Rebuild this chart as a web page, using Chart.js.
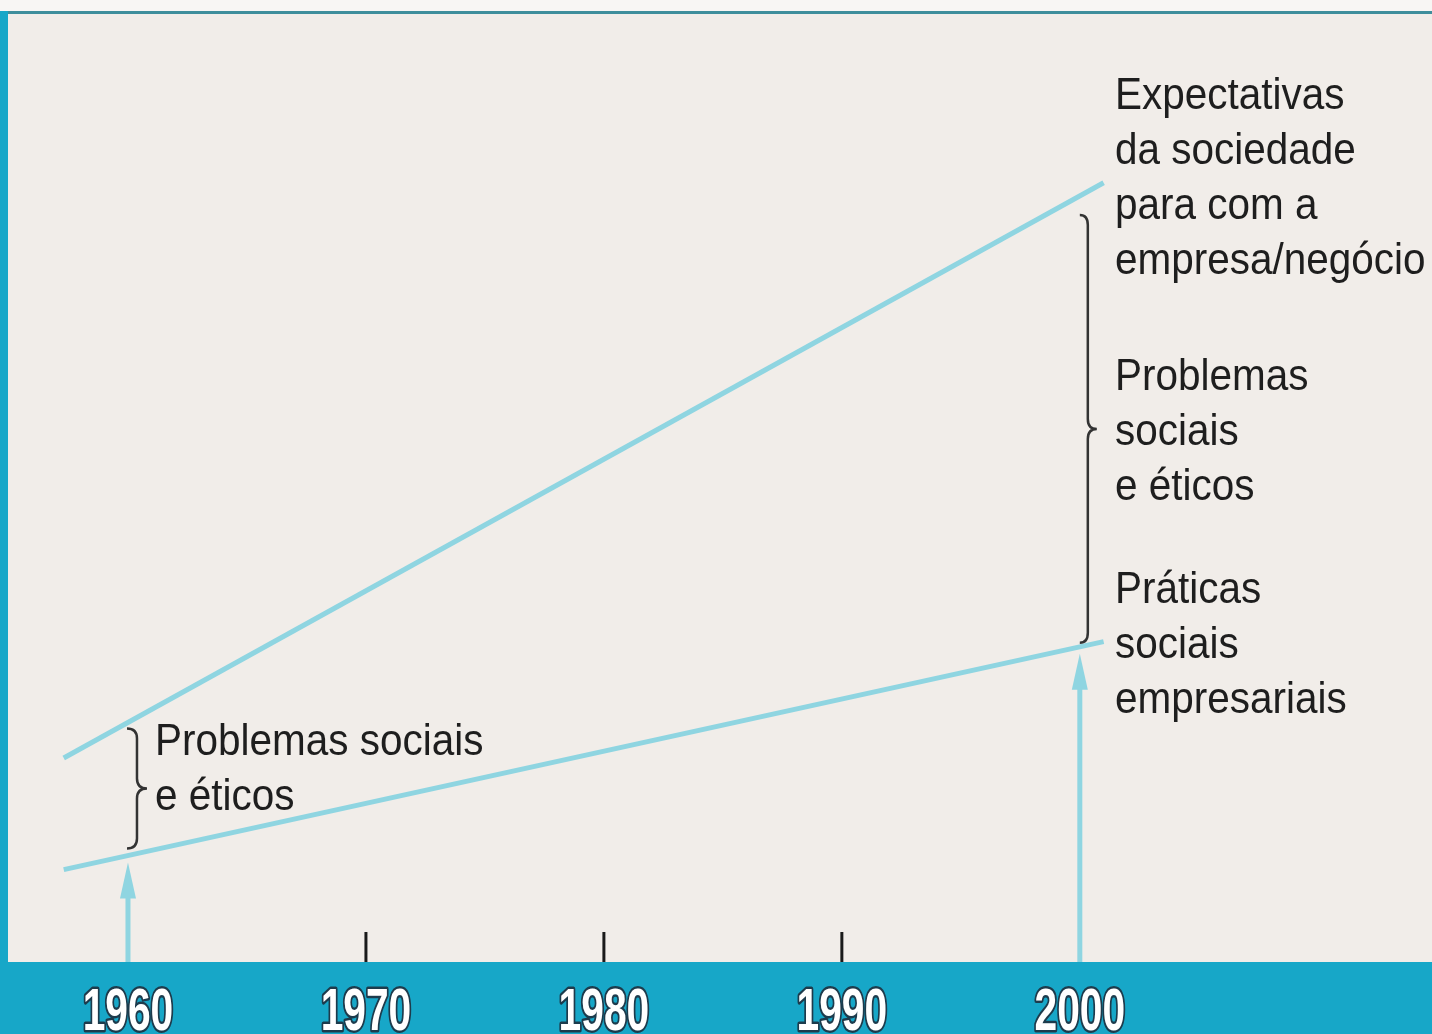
<!DOCTYPE html>
<html>
<head>
<meta charset="utf-8">
<script src="https://cdn.jsdelivr.net/npm/chart.js@4.4.1/dist/chart.umd.min.js"></script>
<style>
  html, body { margin: 0; padding: 0; background: #f1ede9; }
  #wrap { position: relative; width: 1432px; height: 1034px; }
</style>
</head>
<body>
<div id="wrap"><canvas id="c"></canvas></div>
<script>
// ---- data ----
const lineYears = [1957.3, 2001.0];
const expectativas = [21.2, 81.0];   // Expectativas da sociedade para com a empresa/negócio
const praticas = [9.6, 33.3];        // Práticas sociais empresariais
const tickYears = [1970, 1980, 1990];
const yearLabels = ['1960', '1970', '1980', '1990', '2000'];
const arrowYears = [1960, 2000];
const rightLabels1 = ['Expectativas', 'da sociedade', 'para com a', 'empresa/negócio'];
const rightLabels2 = ['Problemas', 'sociais', 'e éticos'];
const rightLabels3 = ['Práticas', 'sociais', 'empresariais'];
const leftLabels = ['Problemas sociais', 'e éticos'];

const LINE_COLOR = '#8fd5e1';
const BAND_COLOR = '#17a7c8';
const BG_COLOR = '#f1ede9';

function interp(series, year) {
  const t = (year - lineYears[0]) / (lineYears[1] - lineYears[0]);
  return series[0] + t * (series[1] - series[0]);
}

function drawText(ctx, str, x, y, size, sx, weight) {
  ctx.save();
  ctx.font = (weight || 'normal') + ' ' + size + 'px "Liberation Sans", Arial, sans-serif';
  ctx.textBaseline = 'alphabetic';
  ctx.translate(x, y);
  ctx.scale(sx, 1);
  ctx.fillText(str, 0, 0);
  ctx.restore();
}

function brace(ctx, xV, yTop, yBot, tipDx, endDx, r) {
  const yMid = (yTop + yBot) / 2;
  ctx.beginPath();
  ctx.moveTo(xV - endDx, yTop);
  ctx.quadraticCurveTo(xV, yTop, xV, yTop + r);
  ctx.lineTo(xV, yMid - r);
  ctx.quadraticCurveTo(xV, yMid, xV + tipDx, yMid);
  ctx.quadraticCurveTo(xV, yMid, xV, yMid + r);
  ctx.lineTo(xV, yBot - r);
  ctx.quadraticCurveTo(xV, yBot, xV - endDx, yBot);
  ctx.stroke();
}

const decor = {
  id: 'decor',
  beforeDraw(chart) {
    const ctx = chart.ctx, W = chart.width, H = chart.height;
    const area = chart.chartArea;
    ctx.save();
    ctx.fillStyle = BG_COLOR;
    ctx.fillRect(0, 0, W, H);
    ctx.fillStyle = '#f8f6f4';
    ctx.fillRect(0, 0, W, 11);
    // top rule
    ctx.fillStyle = '#3e8e9c';
    ctx.fillRect(0, 11, W, 3);
    // left border
    ctx.fillStyle = BAND_COLOR;
    ctx.fillRect(0, 11, 8, H - 11);
    // bottom band
    ctx.fillRect(0, area.bottom, W, H - area.bottom);
    ctx.restore();
  },
  afterDatasetsDraw(chart) {
    const ctx = chart.ctx;
    const xs = chart.scales.x, ys = chart.scales.y;
    const area = chart.chartArea;
    ctx.save();
    // tick marks
    ctx.strokeStyle = '#1a1a1a';
    ctx.lineWidth = 3;
    tickYears.forEach(yr => {
      const px = xs.getPixelForValue(yr);
      ctx.beginPath();
      ctx.moveTo(px, area.bottom - 30);
      ctx.lineTo(px, area.bottom);
      ctx.stroke();
    });
    // arrows
    ctx.strokeStyle = LINE_COLOR;
    ctx.fillStyle = LINE_COLOR;
    arrowYears.forEach(yr => {
      const px = xs.getPixelForValue(yr);
      const tip = ys.getPixelForValue(interp(praticas, yr)) + 7;
      ctx.lineWidth = 5;
      ctx.beginPath();
      ctx.moveTo(px, area.bottom);
      ctx.lineTo(px, tip + 30);
      ctx.stroke();
      ctx.beginPath();
      ctx.moveTo(px, tip);
      ctx.lineTo(px - 8, tip + 36);
      ctx.lineTo(px + 8, tip + 36);
      ctx.closePath();
      ctx.fill();
    });
    // braces
    ctx.strokeStyle = '#333';
    ctx.lineWidth = 2.5;
    {
      const px = xs.getPixelForValue(1960);
      const top = ys.getPixelForValue(interp(expectativas, 1960)) + 6;
      const bot = ys.getPixelForValue(interp(praticas, 1960)) - 7;
      brace(ctx, px + 9, top, bot, 10, 10, 10);
    }
    {
      const px = xs.getPixelForValue(2000);
      const top = ys.getPixelForValue(interp(expectativas, 2000)) + 19;
      const bot = ys.getPixelForValue(interp(praticas, 2000)) - 4;
      brace(ctx, px + 8, top, bot, 9, 8, 10);
    }
    // annotation text
    ctx.fillStyle = '#1e1e1e';
    const FS = 44, SX = 0.92;
    rightLabels1.forEach((t, i) => drawText(ctx, t, 1115, 109 + i * 55, FS, SX));
    rightLabels2.forEach((t, i) => drawText(ctx, t, 1115, 390 + i * 55, FS, SX));
    rightLabels3.forEach((t, i) => drawText(ctx, t, 1115, 603 + i * 55, FS, SX));
    leftLabels.forEach((t, i) => drawText(ctx, t, 155, 755 + i * 55, FS, SX));
    // year labels in band
    ctx.font = 'bold 59px "Liberation Sans", Arial, sans-serif';
    ctx.textAlign = 'center';
    ctx.textBaseline = 'alphabetic';
    ctx.lineJoin = 'round';
    yearLabels.forEach(lbl => {
      const px = xs.getPixelForValue(Number(lbl));
      ctx.save();
      ctx.translate(px, 1030);
      ctx.scale(0.69, 1);
      ctx.strokeStyle = '#1d3b4c';
      ctx.lineWidth = 5;
      ctx.strokeText(lbl, 0, 0);
      ctx.fillStyle = '#ffffff';
      ctx.fillText(lbl, 0, 0);
      ctx.restore();
    });
    ctx.restore();
  }
};

const toPts = (series) => lineYears.map((x, i) => ({ x, y: series[i] }));

new Chart(document.getElementById('c'), {
  type: 'line',
  data: {
    datasets: [
      { label: 'Expectativas da sociedade para com a empresa/negócio', data: toPts(expectativas),
        borderColor: LINE_COLOR, borderWidth: 5, pointRadius: 0, fill: false, tension: 0 },
      { label: 'Práticas sociais empresariais', data: toPts(praticas),
        borderColor: LINE_COLOR, borderWidth: 5, pointRadius: 0, fill: false, tension: 0 }
    ]
  },
  options: {
    responsive: true,
    maintainAspectRatio: false,
    animation: false,
    layout: { padding: { left: 9, right: 0, top: 0, bottom: 72 } },
    plugins: { legend: { display: false }, tooltip: { enabled: false } },
    scales: {
      x: { type: 'linear', min: 1955, max: 2014.8, display: false },
      y: { type: 'linear', min: 0, max: 100, display: false }
    }
  },
  plugins: [decor]
});
</script>
</body>
</html>
